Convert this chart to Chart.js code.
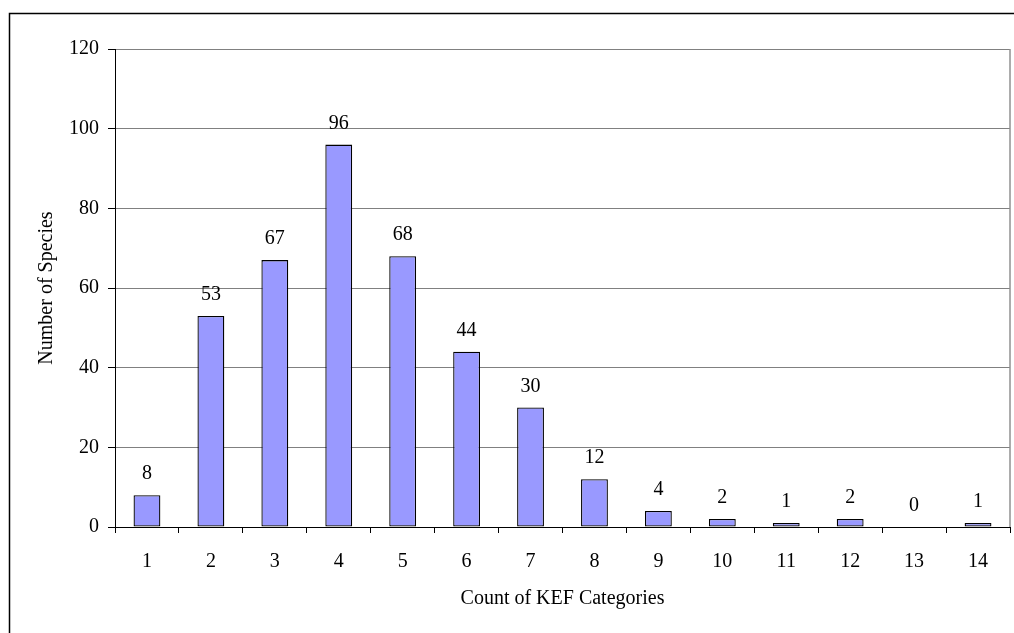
<!DOCTYPE html>
<html>
<head>
<meta charset="utf-8">
<script src="https://cdn.jsdelivr.net/npm/chart.js@4/dist/chart.umd.min.js"></script>
<style>
  html, body { margin: 0; padding: 0; background: #fff; }
  #wrap { width: 1014px; height: 633px; }
</style>
</head>
<body>
<div id="wrap"><canvas id="chart" width="1014" height="633"></canvas></div>
<script>
// Number of species per count of KEF categories
const categories = ['1', '2', '3', '4', '5', '6', '7', '8', '9', '10', '11', '12', '13', '14'];
const speciesCounts = [8, 53, 67, 96, 68, 44, 30, 12, 4, 2, 1, 2, 0, 1];
const yTicks = [0, 20, 40, 60, 80, 100, 120];

const FONT = 'Liberation Serif, "Times New Roman", serif';

// Outer frame, plot-area right edge and value labels above bars
const decorations = {
  id: 'decorations',
  beforeDraw(chart) {
    const ctx = chart.ctx;
    ctx.save();
    ctx.fillStyle = '#fff';
    ctx.fillRect(0, 0, chart.width, chart.height);
    ctx.strokeStyle = '#000';
    ctx.lineWidth = 1.5;
    ctx.strokeRect(9.5, 13.5, 1020, 640);
    ctx.restore();
  },
  afterDatasetsDraw(chart) {
    const ctx = chart.ctx;
    const area = chart.chartArea;
    ctx.save();
    ctx.strokeStyle = '#909090';
    ctx.lineWidth = 1.5;
    ctx.beginPath();
    ctx.moveTo(area.right, area.top);
    ctx.lineTo(area.right, area.bottom);
    ctx.stroke();

    ctx.fillStyle = '#000';
    ctx.font = '20px ' + FONT;
    ctx.textAlign = 'center';
    ctx.textBaseline = 'alphabetic';
    const meta = chart.getDatasetMeta(0);
    meta.data.forEach((bar, i) => {
      ctx.fillText(String(speciesCounts[i]), bar.x, bar.y - 16);
    });
    ctx.restore();
  }
};

new Chart(document.getElementById('chart'), {
  type: 'bar',
  data: {
    labels: categories,
    datasets: [{
      data: speciesCounts,
      backgroundColor: '#9999FF',
      borderColor: '#000',
      borderWidth: 1.3,
      borderSkipped: false,
      categoryPercentage: 1,
      barPercentage: 0.42
    }]
  },
  options: {
    responsive: false,
    animation: false,
    devicePixelRatio: 1,
    layout: { padding: { left: 0, top: 49, right: 4, bottom: 0 } },
    plugins: {
      legend: { display: false },
      tooltip: { enabled: false }
    },
    scales: {
      x: {
        afterFit(scale) { scale.height = 106; },
        grid: {
          offset: true,
          drawOnChartArea: false,
          tickLength: 6,
          tickColor: '#000'
        },
        border: { color: '#000', width: 1 },
        ticks: {
          color: '#000',
          font: { family: FONT, size: 20 },
          padding: 17,
          maxRotation: 0
        },
        title: {
          display: true,
          text: 'Count of KEF Categories',
          color: '#000',
          font: { family: FONT, size: 20 },
          padding: 22
        }
      },
      y: {
        min: 0,
        max: 120,
        afterFit(scale) { scale.width = 115; },
        afterBuildTicks(scale) { scale.ticks = yTicks.map(v => ({ value: v })); },
        grid: {
          color: '#808080',
          tickColor: '#000',
          tickLength: 7
        },
        border: { color: '#000', width: 1 },
        ticks: {
          color: '#000',
          font: { family: FONT, size: 20 },
          padding: 9
        },
        title: {
          display: true,
          text: 'Number of Species',
          color: '#000',
          font: { family: FONT, size: 20 },
          padding: 35
        }
      }
    }
  },
  plugins: [decorations]
});
</script>
</body>
</html>
